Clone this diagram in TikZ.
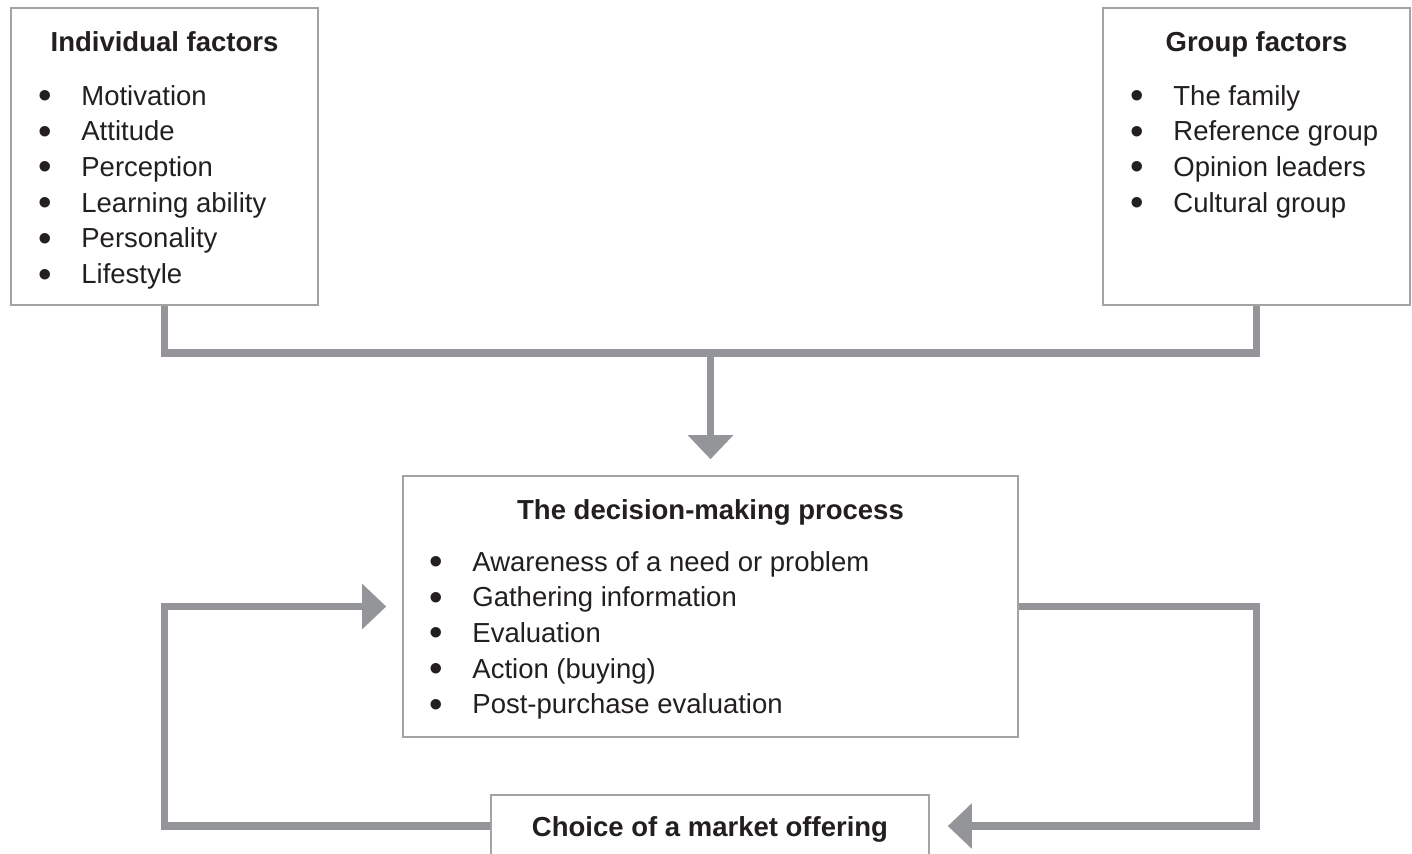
\documentclass[tikz,border=0pt]{standalone}
\usepackage{fontspec}
\usepackage{graphicx}
\setmainfont{Liberation Sans}
\usetikzlibrary{arrows.meta}
\definecolor{flow}{HTML}{939598}
\definecolor{frame}{HTML}{A3A3A3}
\definecolor{ink}{HTML}{231F20}
\newcommand{\bulletlist}[1]{\begin{tabular}[t]{@{}p{21.5pt}@{}l@{}}#1\end{tabular}}
\newcommand{\bi}{\raisebox{-0.13em}{\scalebox{1.4}{\textbullet}} &}
\tikzset{
  x=0.5pt, y=-0.5pt,
  box/.style={draw=frame, line width=0.8pt, fill=white, inner sep=0pt},
  title/.style={font=\fontsize{13.75}{17.85}\selectfont\bfseries, text=ink, inner sep=0pt, anchor=base},
  items/.style={font=\fontsize{13.75}{17.85}\selectfont, text=ink, inner sep=0pt, anchor=base west},
  conn/.style={draw=flow, line width=3.9pt, line join=miter},
  tip/.style={-{Triangle[length=12pt,width=22pt]}, shorten >=8pt}
}
\begin{document}
\begin{tikzpicture}
\clip (0,0) rectangle (1412,853);
\fill[white] (0,0) rectangle (1412,853);

% boxes
\node[box, minimum width=153.5pt, minimum height=148.5pt] (ind) at (164.5,156.5) {};
\node[box, minimum width=153.5pt, minimum height=148.5pt] (grp) at (1256.5,156.5) {};
\node[box, minimum width=307.5pt, minimum height=130.5pt] (dec) at (710.5,606.5) {};
\node[box, minimum width=219pt, minimum height=31pt] (cho) at (710,826) {};

% connectors
\coordinate (j) at (710.5,353);
\draw[conn] (ind.south) |- (j) -| (grp.south);
\draw[conn, tip] (j) -- (dec.north);
\draw[conn, tip] (cho.west) -| (ind.south |- dec.west) -- (dec.west);
\draw[conn, tip, shorten >=9pt] (dec.east) -| (grp.south |- cho.east) -- (cho.east);

% texts
\node[title] (indt) at (164.5,51) {Individual factors};
\node[items] (indl) at (38,105) {\bulletlist{%
  \bi Motivation\\
  \bi Attitude\\
  \bi Perception\\
  \bi Learning ability\\
  \bi Personality\\
  \bi Lifestyle}};

\node[title] (grpt) at (1256.5,51) {Group factors};
\node[items] (grpl) at (1130,105) {\bulletlist{%
  \bi The family\\
  \bi Reference group\\
  \bi Opinion leaders\\
  \bi Cultural group}};

\node[title] (dect) at (710.5,519) {The decision-making process};
\node[items] (decl) at (429,571) {\bulletlist{%
  \bi Awareness of a need or problem\\
  \bi Gathering information\\
  \bi Evaluation\\
  \bi Action (buying)\\
  \bi Post-purchase evaluation}};

\node[title] (chot) at (710,836) {Choice of a market offering};
\end{tikzpicture}
\end{document}
